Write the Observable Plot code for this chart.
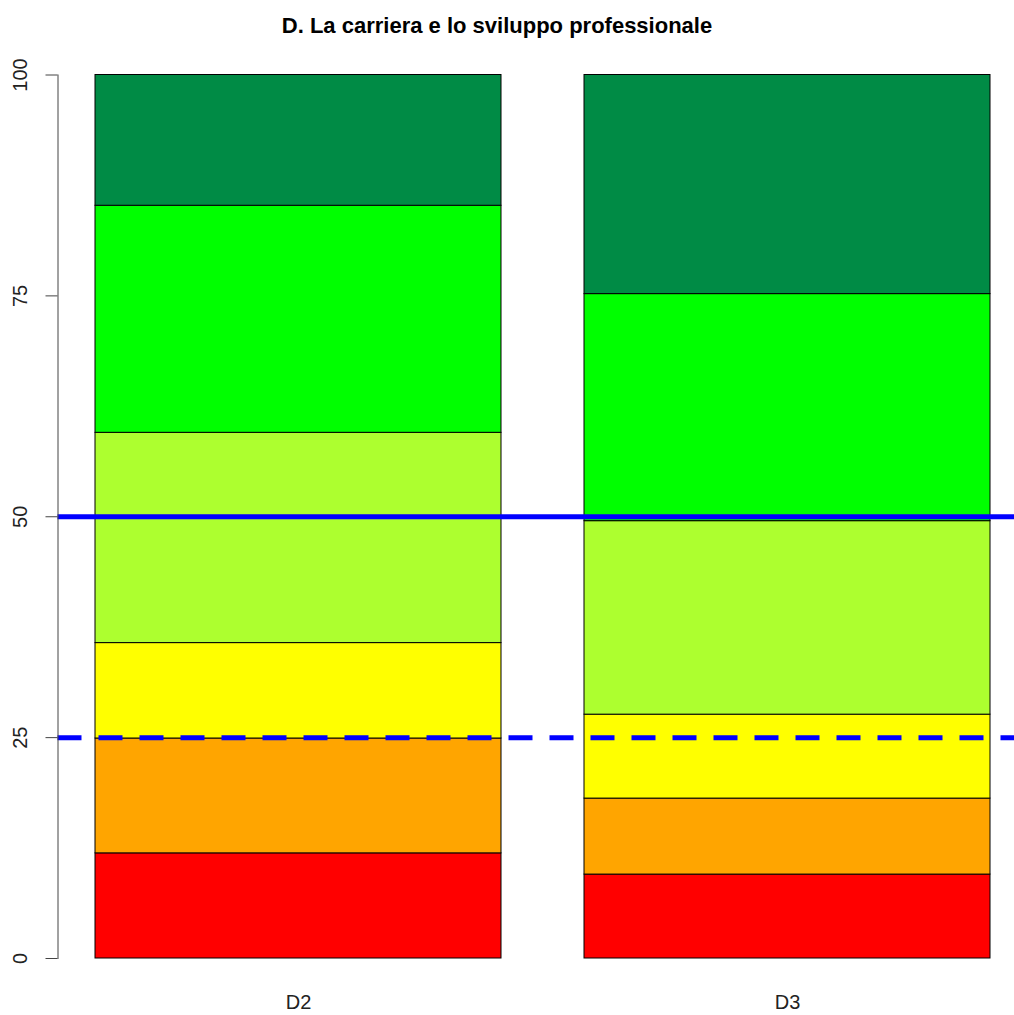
<!DOCTYPE html>
<html>
<head>
<meta charset="utf-8">
<script src="https://cdn.jsdelivr.net/npm/d3@7"></script>
<script src="https://cdn.jsdelivr.net/npm/@observablehq/plot@0.6"></script>
<style>
  html, body { margin: 0; padding: 0; background: #fff; }
  #wrap { position: relative; width: 1014px; height: 1015px; overflow: hidden; }
  #title { position: absolute; left: 0; top: 13px; width: 994px; text-align: center;
           font-family: "Liberation Sans", Arial, sans-serif; font-weight: bold; font-size: 22px; line-height: 26px; color: #000; }
  #chart { position: absolute; left: 0; top: 0; }
</style>
</head>
<body>
<div id="wrap">
  <div id="chart"></div>
  <div id="title">D. La carriera e lo sviluppo professionale</div>
</div>
<script>
const categories = ["D2", "D3"];
const levels = ["1", "2", "3", "4", "5", "6"];
const levelColors = ["#FF0000", "#FFA500", "#FFFF00", "#ADFF2F", "#00FF00", "#008B45"];
const valuesD2 = [11.9, 13.0, 10.8, 23.8, 25.7, 14.8];
const valuesD3 = [9.5, 8.6, 9.5, 21.9, 25.7, 24.8];
const yTicks = [0, 25, 50, 75, 100];
const refSolid = [50];
const refDashed = [25];

const seriesByCat = {D2: valuesD2, D3: valuesD3};
const table = [];
levels.forEach((lv, i) => {
  categories.forEach(c => table.push({cat: c, level: lv, value: seriesByCat[c][i]}));
});

const W = 1014, H = 1015;
const plot = Plot.plot({
  width: W,
  height: H,
  marginLeft: 57.5,
  marginRight: 0,
  marginTop: 74.5,
  marginBottom: 57,
  style: {fontFamily: "'Liberation Sans', Arial, sans-serif", fontSize: "20px", background: "#fff"},
  x: {type: "band", domain: categories, range: [58, 1026], paddingInner: 0.17, paddingOuter: 0.0736, align: 0.5, label: null},
  y: {domain: [0, 100], range: [958, 74.5], label: null},
  color: {domain: levels, range: levelColors},
  marks: [
    Plot.barY(table, {x: "cat", y: "value", fill: "level", stroke: "#000", strokeWidth: 1}),
    Plot.ruleY(refSolid, {stroke: "#0000FF", strokeWidth: 5}),
    Plot.ruleY(refDashed, {stroke: "#0000FF", strokeWidth: 5, strokeDasharray: "24,17", strokeLinecap: "butt"}),
    Plot.frame({anchor: "left", stroke: "#444"}),
    Plot.axisY({ticks: yTicks, tickSize: 12, tickFormat: () => "", stroke: "#444"}),
    Plot.text(yTicks, {y: d => d, text: d => String(d), frameAnchor: "left", dx: -37, rotate: -90, textAnchor: "middle", lineAnchor: "middle", fill: "#222", fontSize: 20}),
    Plot.axisX({tickSize: 0, tickPadding: 36, fontSize: 20, fill: "#222"})
  ]
});
document.getElementById("chart").appendChild(plot);
</script>
</body>
</html>
